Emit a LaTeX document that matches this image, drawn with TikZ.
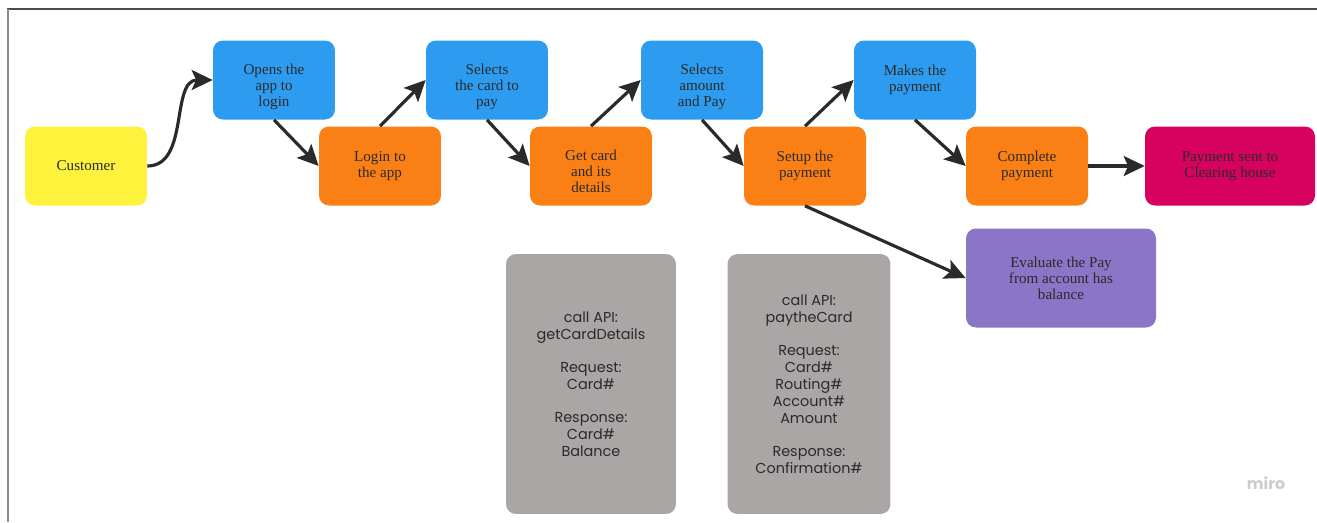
\documentclass[tikz,border=0pt]{standalone}
\usepackage{fontspec}
\setmainfont{Liberation Serif}
\newfontfamily\apifont{Poppins}
\usepackage{xcolor}
\usetikzlibrary{arrows.meta}
\definecolor{custyellow}{HTML}{FFF23C}
\definecolor{stepblue}{HTML}{2D9CF0}
\definecolor{steporange}{HTML}{FA7F14}
\definecolor{clearpink}{HTML}{D70260}
\definecolor{evalpurple}{HTML}{8A75C7}
\definecolor{apigrey}{HTML}{ABA6A6}
\definecolor{inkdark}{HTML}{2A2A2A}
% three line labels sit a little low in their cards
\newcommand{\lowtext}[1]{\raisebox{-4pt}[\height][\depth]{%
  \begin{tabular}{@{}c@{}}#1\end{tabular}}}

\begin{document}
\begin{tikzpicture}[x=0.02cm, y=-0.02cm,
  card/.style={rectangle, rounded corners=0.2cm, inner sep=2pt,
               minimum width=2.44cm, minimum height=1.58cm, align=center,
               font=\fontsize{8.6}{9.2}\selectfont, text=inkdark},
  blue/.style={card, fill=stepblue},
  orange/.style={card, fill=steporange},
  api/.style={rectangle, rounded corners=0.2cm, fill=apigrey, align=center,
              font=\apifont\fontsize{8.2}{9.7}\selectfont, text=inkdark},
  flow/.style={draw=inkdark, line width=1.8pt,
               -{Stealth[length=0.42cm, width=0.40cm, inset=0.09cm]}}]
  \useasboundingbox (0,0) rectangle (1317,522);
  \draw[draw=black!70, line width=1pt] (7,9) -- (1317,9);
  \draw[draw=black!45, line width=1pt] (8,9) -- (8,522);
  \node[card, fill=custyellow] (cust) at (86,166) {Customer};
  \node[blue] (open) at (274,80) {\lowtext{Opens the\\app to\\login}};
  \node[orange] (login) at (380,166) {Login to\\the app};
  \node[blue] (select) at (487,80) {\lowtext{Selects\\the card to\\pay}};
  \node[orange] (getcard) at (591,166) {\lowtext{Get card\\and its\\details}};
  \node[blue] (amount) at (702,80) {\lowtext{Selects\\amount\\and Pay}};
  \node[orange] (setup) at (805,166) {Setup the\\payment};
  \node[blue] (make) at (915,80) {Makes the\\payment};
  \node[orange] (complete) at (1027,166) {Complete\\payment};
  \node[card, fill=clearpink, minimum width=3.4cm] (clear) at (1230,166)
    {Payment sent to\\Clearing house};
  \node[card, fill=evalpurple, minimum width=3.8cm, minimum height=1.98cm]
    (eval) at (1061,278) {Evaluate the Pay\\from account has\\balance};
  \node[api, minimum width=3.4cm, minimum height=5.2cm] (api1) at (591,384)
    {call API:\\getCardDetails\\[9pt]Request:\\Card\#\\[9pt]Response:\\Card\#\\Balance};
  \node[api, minimum width=3.26cm, minimum height=5.2cm] (api2) at (809,384)
    {call API:\\paytheCard\\[9pt]Request:\\Card\#\\Routing\#\\Account\#\\Amount\\[9pt]Response:\\Confirmation\#};
  \node[font=\apifont\bfseries\fontsize{9}{9}\selectfont, text=black!20] (miro) at (1266,483) {miro};
  \draw[flow] (cust.east) to[out=0, in=180] (open.west);
  \draw[flow] (open.south) -- (login.west);
  \draw[flow] (login.north) -- (select.west);
  \draw[flow] (select.south) -- (getcard.west);
  \draw[flow] (getcard.north) -- (amount.west);
  \draw[flow] (amount.south) -- (setup.west);
  \draw[flow] (setup.north) -- (make.west);
  \draw[flow] (make.south) -- (complete.west);
  \draw[flow] (complete.east) -- (clear.west);
  \draw[flow] (setup.south) -- (eval.west);
\end{tikzpicture}
\end{document}
